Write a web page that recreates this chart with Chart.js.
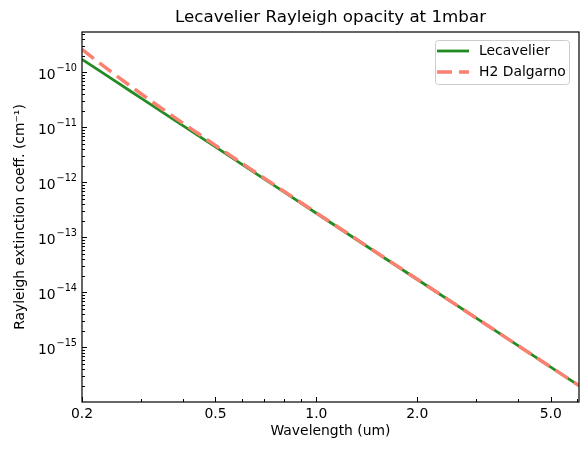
<!DOCTYPE html>
<html>
<head>
<meta charset="utf-8">
<script src="https://cdn.jsdelivr.net/npm/chart.js@4.4.1/dist/chart.umd.min.js"></script>
<style>
  html, body { margin: 0; padding: 0; background: #fff; }
</style>
</head>
<body>
<canvas id="opacity" width="587" height="450"></canvas>
<script>
// wavelength in um, extinction coeff in cm^-1
const wavelength = [0.2, 0.22, 0.25, 0.28, 0.3, 0.35, 0.4, 0.5, 0.6, 0.8, 1.0, 2.0, 3.0, 5.0, 6.07];
const lecavelier = [1.72e-10, 1.175e-10, 7.05e-11, 4.48e-11, 3.40e-11, 1.834e-11, 1.075e-11, 4.40e-12,
                    2.12e-12, 6.72e-13, 2.75e-13, 1.72e-14, 3.40e-15, 4.40e-16, 2.03e-16];
const dalgarno   = [2.61e-10, 1.656e-10, 9.17e-11, 5.52e-11, 4.07e-11, 2.09e-11, 1.19e-11, 4.69e-12,
                    2.22e-12, 6.89e-13, 2.79e-13, 1.73e-14, 3.40e-15, 4.40e-16, 2.03e-16];

const xTicks = [0.2, 0.5, 1.0, 2.0, 5.0];
const xMinor = [0.3, 0.4, 0.6, 0.7, 0.8, 0.9, 3, 4, 6];
const yTicks = [1e-15, 1e-14, 1e-13, 1e-12, 1e-11, 1e-10];

const TITLE = 'Lecavelier Rayleigh opacity at 1mbar';
const FONT = 'DejaVu Sans';

// title over the axes, inward ticks, frame, 10^n labels and boxed legend, matplotlib style
const frameTicks = {
  id: 'frameTicks',
  afterDraw(chart) {
    const { ctx, chartArea: a, scales: { x, y } } = chart;
    ctx.save();
    ctx.fillStyle = '#000';
    ctx.font = '16.7px "' + FONT + '"';
    ctx.textAlign = 'center';
    ctx.textBaseline = 'middle';
    ctx.fillText(TITLE, (a.left + a.right) / 2, 18);

    ctx.strokeStyle = '#000';
    ctx.lineWidth = 1;
    ctx.beginPath();
    xTicks.forEach(v => { const px = Math.round(x.getPixelForValue(v)) + 0.5; ctx.moveTo(px, a.bottom); ctx.lineTo(px, a.bottom - 5); });
    xMinor.forEach(v => { const px = Math.round(x.getPixelForValue(v)) + 0.5; ctx.moveTo(px, a.bottom); ctx.lineTo(px, a.bottom - 3); });
    yTicks.forEach(v => { const py = Math.round(y.getPixelForValue(v)) + 0.5; ctx.moveTo(a.left, py); ctx.lineTo(a.left + 5, py); });
    for (let e = -17; e <= -9; e++) {
      for (let m = 2; m <= 9; m++) {
        const v = m * Math.pow(10, e);
        if (v < y.min || v > y.max) continue;
        const py = Math.round(y.getPixelForValue(v)) + 0.5;
        ctx.moveTo(a.left, py); ctx.lineTo(a.left + 3, py);
      }
    }
    ctx.stroke();
    ctx.lineWidth = 1.2;
    ctx.strokeRect(a.left, a.top, a.right - a.left, a.bottom - a.top);

    // y tick labels as 10 with raised exponent
    ctx.textBaseline = 'alphabetic';
    ctx.textAlign = 'right';
    yTicks.forEach(v => {
      const py = y.getPixelForValue(v);
      const exp = '\u2212' + String(-Math.round(Math.log10(v)));
      ctx.font = '9.7px "' + FONT + '"';
      const ew = ctx.measureText(exp).width;
      ctx.fillText(exp, a.left - 5, py - 1);
      ctx.font = '13.9px "' + FONT + '"';
      ctx.fillText('10', a.left - 6 - ew, py + 7);
    });

    // legend
    const bx = 435, by = 40, bw = 134, bh = 44;
    ctx.beginPath();
    ctx.roundRect(bx + 0.5, by + 0.5, bw, bh, 3);
    ctx.fillStyle = 'rgba(255,255,255,0.8)';
    ctx.fill();
    ctx.strokeStyle = '#cccccc';
    ctx.lineWidth = 1;
    ctx.stroke();
    ctx.font = '13.9px "' + FONT + '"';
    ctx.textAlign = 'left';
    ctx.textBaseline = 'middle';
    chart.data.datasets.forEach((ds, i) => {
      const ly = 51 + i * 21;
      ctx.beginPath();
      ctx.strokeStyle = ds.borderColor;
      ctx.lineWidth = ds.borderWidth;
      ctx.setLineDash(ds.borderDash || []);
      ctx.moveTo(437, ly); ctx.lineTo(469, ly);
      ctx.stroke();
      ctx.setLineDash([]);
      ctx.fillStyle = '#000';
      ctx.fillText(ds.label, 479, ly);
    });
    ctx.restore();
  }
};

new Chart(document.getElementById('opacity'), {
  type: 'line',
  data: {
    datasets: [
      {
        label: 'Lecavelier',
        data: wavelength.map((w, i) => ({ x: w, y: lecavelier[i] })),
        borderColor: '#228b22',
        borderWidth: 2.8,
        pointRadius: 0,
        fill: false,
        order: 1
      },
      {
        label: 'H2 Dalgarno',
        data: wavelength.map((w, i) => ({ x: w, y: dalgarno[i] })),
        borderColor: '#fa8072',
        borderWidth: 3.5,
        borderDash: [15, 7],
        borderCapStyle: 'butt',
        pointRadius: 0,
        fill: false,
        order: 0
      }
    ]
  },
  options: {
    responsive: false,
    animation: false,
    layout: { padding: { left: 0, right: 8, top: 32, bottom: 0 } },
    plugins: {
      legend: { display: false },
      tooltip: { enabled: false },
      title: { display: false }
    },
    scales: {
      x: {
        type: 'logarithmic',
        min: 0.2,
        max: 6.07,
        afterBuildTicks: s => { s.ticks = xTicks.map(v => ({ value: v })); },
        afterFit: s => { s.height = 48; },
        grid: { display: false, drawTicks: false },
        border: { display: false },
        ticks: {
          color: '#000',
          font: { family: FONT, size: 13.9 },
          padding: 4,
          maxRotation: 0,
          autoSkip: false,
          callback: v => Number(v).toFixed(1)
        },
        title: {
          display: true,
          text: 'Wavelength (um)',
          color: '#000',
          font: { family: FONT, size: 13.9 },
          padding: { top: 0, bottom: 10 }
        }
      },
      y: {
        type: 'logarithmic',
        min: 1.02e-16,
        max: 5.4e-10,
        afterBuildTicks: s => { s.ticks = yTicks.map(v => ({ value: v })); },
        afterFit: s => { s.width = 82; },
        grid: { display: false, drawTicks: false },
        border: { display: false },
        ticks: { display: false },
        title: {
          display: true,
          text: 'Rayleigh extinction coeff. (cm\u207B\u00B9)',
          color: '#000',
          font: { family: FONT, size: 13.9 },
          padding: { top: 12, bottom: 0 }
        }
      }
    }
  },
  plugins: [frameTicks]
});
</script>
</body>
</html>
